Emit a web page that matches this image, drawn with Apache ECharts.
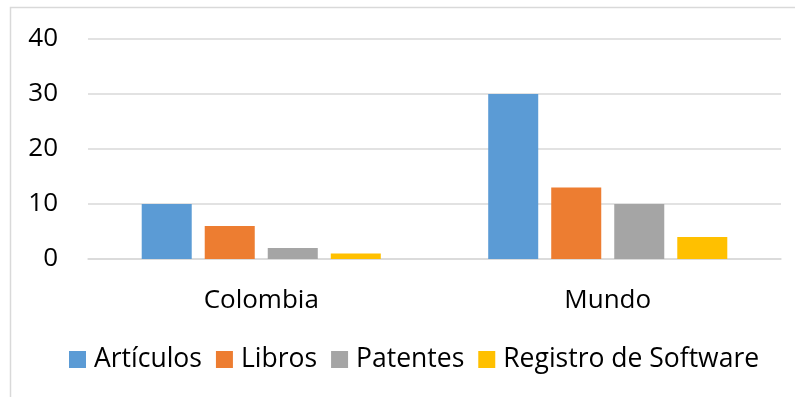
<!DOCTYPE html>
<html><head><meta charset="utf-8">
<script src="https://cdn.jsdelivr.net/npm/echarts@6/dist/echarts.min.js"></script>
<style>html,body{margin:0;padding:0;background:#fff}#c{width:795px;height:397px}</style>
</head><body><div id="c"></div>
<script>
const categories = ['Colombia', 'Mundo'];
const seriesNames = ['Artículos', 'Libros', 'Patentes', 'Registro de Software'];
const articulos = [10, 30];
const libros = [6, 13];
const patentes = [2, 10];
const software = [1, 4];
const colors = ['#5b9bd5', '#ed7d31', '#a5a5a5', '#ffc000'];
const values = [articulos, libros, patentes, software];
const FONT = 'Open Sans';
const chart = echarts.init(document.getElementById('c'), null, {renderer: 'canvas'});
chart.setOption({
  animation: false,
  textStyle: {fontFamily: FONT},
  graphic: [{type: 'rect', shape: {x: 10.5, y: 7.5, width: 900, height: 500}, style: {fill: 'none', stroke: '#d9d9d9', lineWidth: 1.5}, silent: true, z: -1}],
  grid: {left: 88, right: 14, top: 39, bottom: 138, containLabel: false},
  legend: {
    bottom: 19, left: 64, itemWidth: 17, itemHeight: 17, itemGap: 14,
    icon: 'rect',
    textStyle: {fontFamily: FONT, fontSize: 26.5, color: '#000', padding: [0, 0, 0, 3]},
    data: seriesNames
  },
  xAxis: {
    type: 'category', data: categories,
    axisLine: {lineStyle: {color: '#d9d9d9', width: 1.5}},
    axisTick: {show: false},
    axisLabel: {fontFamily: FONT, fontSize: 26, color: '#000', margin: 29}
  },
  yAxis: {
    type: 'value', min: 0, max: 40, interval: 10,
    axisLine: {show: false}, axisTick: {show: false},
    splitLine: {lineStyle: {color: '#d9d9d9', width: 1.5}},
    axisLabel: {fontFamily: FONT, fontSize: 26, color: '#000', margin: 30}
  },
  series: seriesNames.map((n, i) => ({
    name: n, type: 'bar', data: values[i], barGap: '26%', barCategoryGap: '31%',
    itemStyle: {color: colors[i]}
  }))
});
</script></body></html>
